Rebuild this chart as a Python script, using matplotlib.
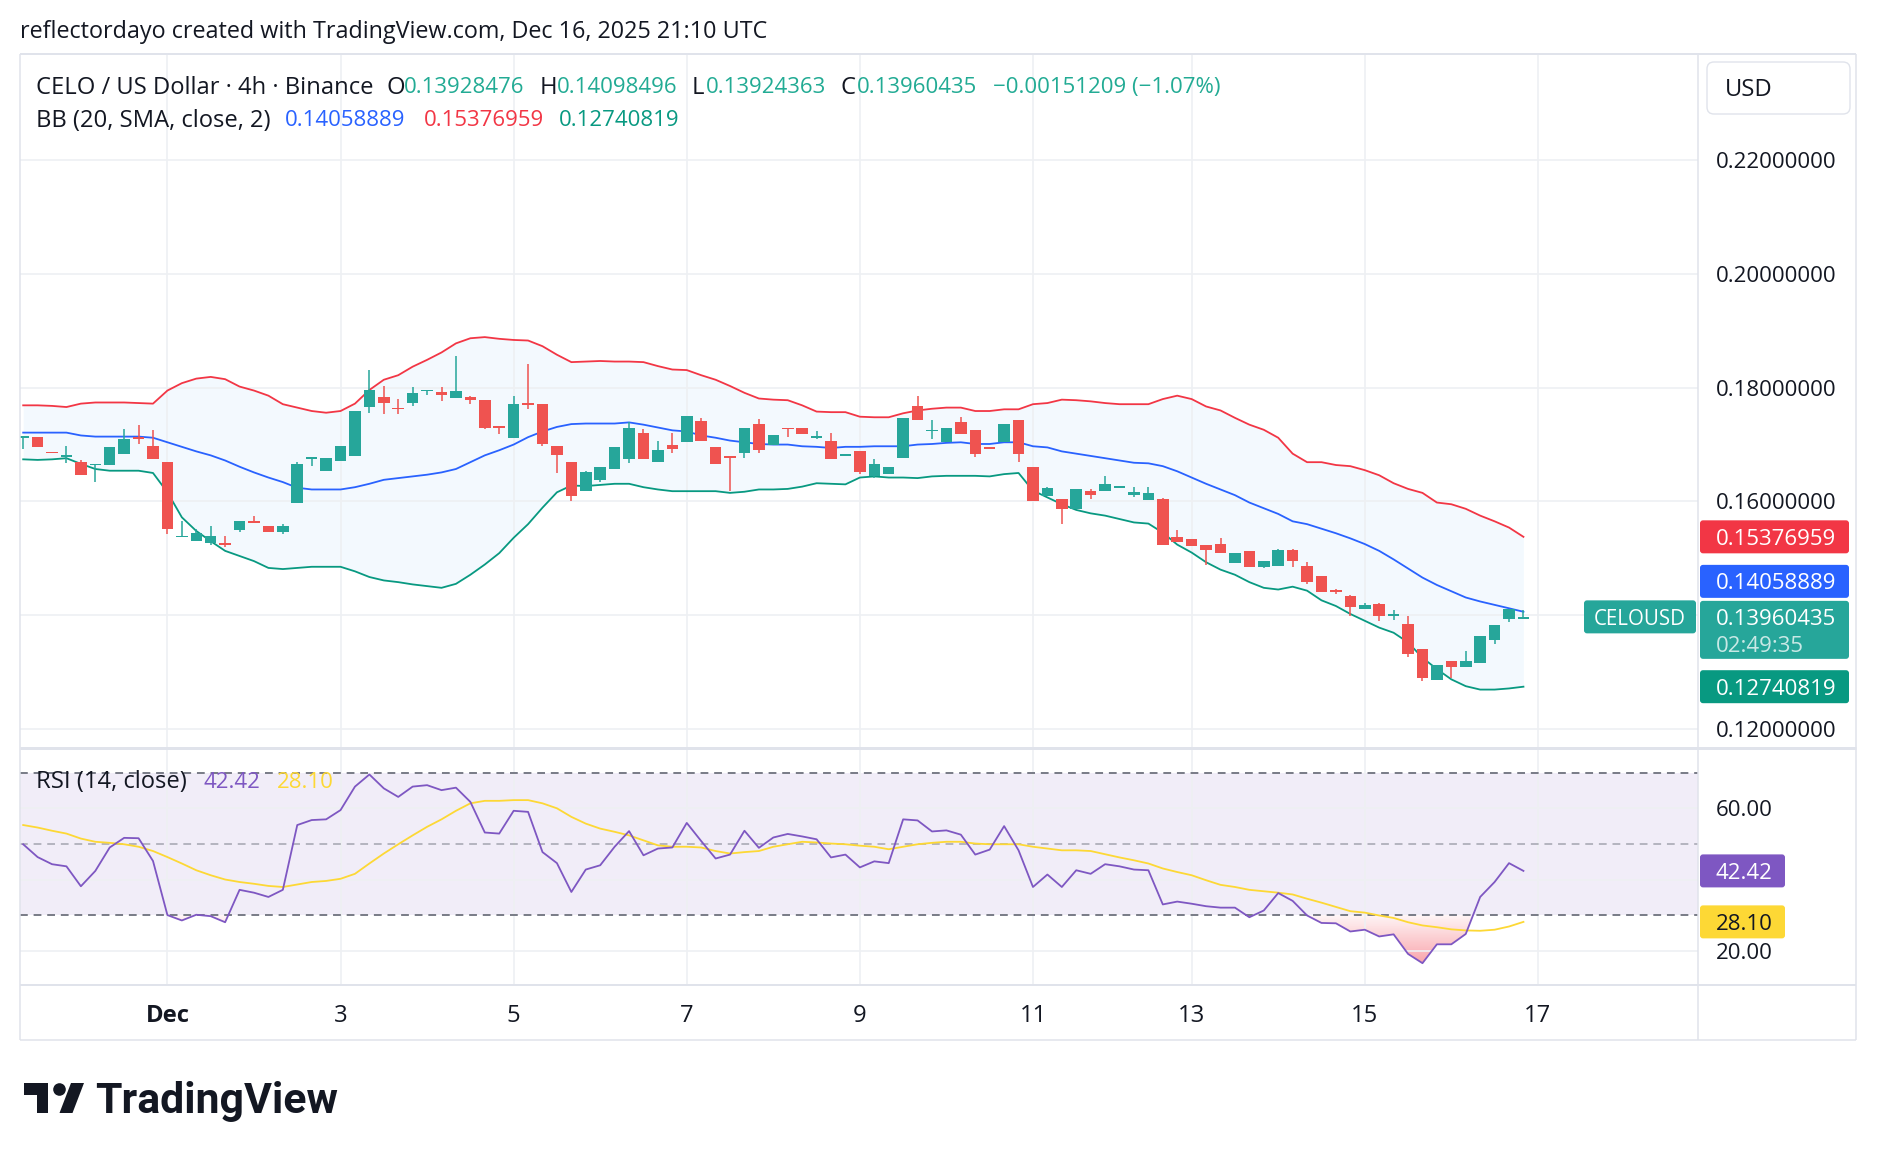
import matplotlib
matplotlib.use('Agg')

import matplotlib.pyplot as plt
import numpy as np
from matplotlib.patches import FancyBboxPatch, Circle, Polygon
from matplotlib.path import Path
from matplotlib.colors import LinearSegmentedColormap

plt.rcParams['font.family'] = ['Open Sans', 'DejaVu Sans']

W, H = 1878, 1160

# ---- CELO/USD 4h candles ----
opens = [0.1712, 0.1714, 0.1687, 0.1678, 0.1670, 0.1664, 0.1664, 0.1683, 0.1714, 0.1697,
         0.1670, 0.1537, 0.1530, 0.1526, 0.1526, 0.1550, 0.1565, 0.1556, 0.1547, 0.1597,
         0.1675, 0.1653, 0.1671, 0.1680, 0.1766, 0.1783, 0.1765, 0.1773, 0.1794, 0.1792,
         0.1782, 0.1783, 0.1778, 0.1732, 0.1712, 0.1773, 0.1771, 0.1698, 0.1670, 0.1618,
         0.1637, 0.1657, 0.1674, 0.1720, 0.1669, 0.1700, 0.1704, 0.1741, 0.1695, 0.1680,
         0.1685, 0.1737, 0.1700, 0.1730, 0.1730, 0.1712, 0.1707, 0.1680, 0.1688, 0.1644,
         0.1648, 0.1676, 0.1768, 0.1723, 0.1704, 0.1739, 0.1725, 0.1695, 0.1704, 0.1743,
         0.1660, 0.1609, 0.1605, 0.1586, 0.1619, 0.1618, 0.1624, 0.1612, 0.1602, 0.1605,
         0.1537, 0.1534, 0.1524, 0.1525, 0.1492, 0.1513, 0.1485, 0.1487, 0.1514, 0.1486,
         0.1469, 0.1445, 0.1434, 0.1410, 0.1419, 0.1398, 0.1384, 0.1341, 0.1285, 0.1320,
         0.1309, 0.1315, 0.1356, 0.1394, 0.13928476]
highs = [0.1714, 0.1714, 0.1687, 0.1697, 0.1672, 0.1666, 0.1695, 0.1727, 0.1734, 0.1725,
         0.1670, 0.1566, 0.1552, 0.1556, 0.1539, 0.1566, 0.1575, 0.1556, 0.1561, 0.1670,
         0.1677, 0.1677, 0.1698, 0.1759, 0.1831, 0.1803, 0.1780, 0.1801, 0.1796, 0.1801,
         0.1856, 0.1786, 0.1778, 0.1732, 0.1786, 0.1842, 0.1771, 0.1698, 0.1670, 0.1653,
         0.1660, 0.1695, 0.1739, 0.1728, 0.1706, 0.1720, 0.1750, 0.1747, 0.1695, 0.1680,
         0.1730, 0.1745, 0.1716, 0.1730, 0.1730, 0.1724, 0.1720, 0.1684, 0.1688, 0.1674,
         0.1660, 0.1746, 0.1785, 0.1743, 0.1729, 0.1748, 0.1725, 0.1695, 0.1737, 0.1743,
         0.1660, 0.1626, 0.1605, 0.1621, 0.1621, 0.1645, 0.1626, 0.1626, 0.1626, 0.1606,
         0.1550, 0.1534, 0.1524, 0.1536, 0.1510, 0.1513, 0.1495, 0.1516, 0.1516, 0.1494,
         0.1469, 0.1446, 0.1436, 0.1422, 0.1421, 0.1409, 0.1398, 0.1341, 0.1312, 0.1320,
         0.1336, 0.1364, 0.1383, 0.1410, 0.14098496]
lows = [0.1693, 0.1696, 0.1685, 0.1667, 0.1647, 0.1634, 0.1664, 0.1683, 0.1701, 0.1674,
        0.1543, 0.1537, 0.1530, 0.1524, 0.1519, 0.1547, 0.1562, 0.1547, 0.1543, 0.1597,
        0.1662, 0.1653, 0.1671, 0.1680, 0.1756, 0.1754, 0.1754, 0.1768, 0.1788, 0.1777,
        0.1782, 0.1772, 0.1727, 0.1718, 0.1712, 0.1763, 0.1697, 0.1650, 0.1600, 0.1618,
        0.1634, 0.1657, 0.1668, 0.1674, 0.1669, 0.1685, 0.1704, 0.1706, 0.1665, 0.1619,
        0.1677, 0.1685, 0.1700, 0.1713, 0.1719, 0.1709, 0.1674, 0.1680, 0.1648, 0.1642,
        0.1648, 0.1676, 0.1743, 0.1709, 0.1704, 0.1719, 0.1678, 0.1693, 0.1704, 0.1669,
        0.1600, 0.1609, 0.1561, 0.1586, 0.1605, 0.1618, 0.1624, 0.1607, 0.1602, 0.1524,
        0.1529, 0.1522, 0.1489, 0.1510, 0.1492, 0.1485, 0.1483, 0.1487, 0.1485, 0.1455,
        0.1440, 0.1437, 0.1398, 0.1410, 0.1389, 0.1392, 0.1327, 0.1284, 0.1285, 0.1289,
        0.1309, 0.1315, 0.1349, 0.1388, 0.13924363]
closes = [0.1714, 0.1696, 0.1685, 0.1681, 0.1647, 0.1666, 0.1695, 0.1709, 0.1709, 0.1674,
          0.1552, 0.1539, 0.1544, 0.1540, 0.1523, 0.1566, 0.1562, 0.1547, 0.1556, 0.1665,
          0.1677, 0.1677, 0.1698, 0.1759, 0.1796, 0.1773, 0.1762, 0.1791, 0.1796, 0.1788,
          0.1795, 0.1778, 0.1729, 0.1729, 0.1772, 0.1769, 0.1701, 0.1682, 0.1609, 0.1651,
          0.1660, 0.1695, 0.1730, 0.1674, 0.1690, 0.1692, 0.1750, 0.1706, 0.1665, 0.1677,
          0.1730, 0.1690, 0.1716, 0.1727, 0.1719, 0.1714, 0.1674, 0.1683, 0.1652, 0.1665,
          0.1660, 0.1746, 0.1743, 0.1724, 0.1729, 0.1719, 0.1683, 0.1693, 0.1737, 0.1683,
          0.1600, 0.1624, 0.1586, 0.1621, 0.1611, 0.1630, 0.1626, 0.1617, 0.1615, 0.1524,
          0.1529, 0.1522, 0.1515, 0.1510, 0.1510, 0.1485, 0.1495, 0.1514, 0.1496, 0.1459,
          0.1440, 0.1441, 0.1415, 0.1418, 0.1398, 0.1402, 0.1331, 0.1289, 0.1312, 0.1309,
          0.1320, 0.1364, 0.1383, 0.1410, 0.13960435]

# Bollinger bands (20, SMA, close, 2)
bb_upper = [0.1769, 0.1769, 0.1768, 0.1766, 0.1772, 0.1774, 0.1774, 0.1774, 0.1773, 0.1772,
            0.1795, 0.1808, 0.1816, 0.1819, 0.1815, 0.1802, 0.1795, 0.1786, 0.1771, 0.1765,
            0.1759, 0.1756, 0.1759, 0.1772, 0.1796, 0.1814, 0.1822, 0.1837, 0.1849, 0.1862,
            0.1878, 0.1887, 0.1889, 0.1886, 0.1884, 0.1883, 0.1873, 0.1858, 0.1845, 0.1846,
            0.1847, 0.1846, 0.1846, 0.1845, 0.1838, 0.1832, 0.1831, 0.1822, 0.1814, 0.1803,
            0.1791, 0.1781, 0.1779, 0.1778, 0.1769, 0.1758, 0.1757, 0.1757, 0.1749, 0.1748,
            0.1748, 0.1755, 0.1760, 0.1763, 0.1765, 0.1765, 0.1759, 0.1759, 0.1762, 0.1762,
            0.1771, 0.1773, 0.1779, 0.1778, 0.1776, 0.1773, 0.1771, 0.1771, 0.1771, 0.1780,
            0.1786, 0.1780, 0.1767, 0.1760, 0.1747, 0.1735, 0.1726, 0.1712, 0.1684, 0.1669,
            0.1669, 0.1664, 0.1662, 0.1655, 0.1646, 0.1632, 0.1622, 0.1615, 0.1598, 0.1595,
            0.1587, 0.1575, 0.1565, 0.1554, 0.15376959]
bb_basis = [0.1721, 0.1721, 0.1721, 0.1721, 0.1716, 0.1714, 0.1714, 0.1714, 0.1714, 0.1712,
            0.1704, 0.1696, 0.1688, 0.1681, 0.1672, 0.1661, 0.1651, 0.1642, 0.1634, 0.1624,
            0.1621, 0.1621, 0.1621, 0.1625, 0.1631, 0.1638, 0.1641, 0.1644, 0.1647, 0.1651,
            0.1657, 0.1669, 0.1681, 0.1690, 0.1700, 0.1713, 0.1723, 0.1731, 0.1736, 0.1737,
            0.1737, 0.1737, 0.1739, 0.1735, 0.1730, 0.1725, 0.1723, 0.1716, 0.1712, 0.1707,
            0.1704, 0.1701, 0.1700, 0.1700, 0.1697, 0.1696, 0.1694, 0.1696, 0.1696, 0.1697,
            0.1697, 0.1697, 0.1700, 0.1701, 0.1703, 0.1704, 0.1701, 0.1701, 0.1704, 0.1704,
            0.1697, 0.1695, 0.1688, 0.1684, 0.1680, 0.1676, 0.1672, 0.1668, 0.1667, 0.1662,
            0.1653, 0.1642, 0.1631, 0.1621, 0.1611, 0.1598, 0.1588, 0.1578, 0.1565, 0.1560,
            0.1552, 0.1544, 0.1535, 0.1525, 0.1513, 0.1498, 0.1482, 0.1466, 0.1453, 0.1442,
            0.1431, 0.1424, 0.1418, 0.1412, 0.14058889]
bb_lower = [0.1674, 0.1673, 0.1674, 0.1676, 0.1666, 0.1657, 0.1654, 0.1654, 0.1654, 0.1650,
            0.1616, 0.1572, 0.1548, 0.1530, 0.1513, 0.1504, 0.1495, 0.1483, 0.1481, 0.1483,
            0.1485, 0.1485, 0.1485, 0.1477, 0.1467, 0.1461, 0.1458, 0.1454, 0.1451, 0.1448,
            0.1455, 0.1471, 0.1489, 0.1509, 0.1536, 0.1560, 0.1589, 0.1616, 0.1628, 0.1627,
            0.1629, 0.1631, 0.1631, 0.1625, 0.1621, 0.1618, 0.1618, 0.1618, 0.1618, 0.1615,
            0.1617, 0.1621, 0.1621, 0.1622, 0.1626, 0.1632, 0.1631, 0.1630, 0.1642, 0.1644,
            0.1642, 0.1642, 0.1641, 0.1644, 0.1645, 0.1645, 0.1645, 0.1644, 0.1648, 0.1650,
            0.1619, 0.1607, 0.1595, 0.1585, 0.1579, 0.1575, 0.1569, 0.1563, 0.1561, 0.1545,
            0.1524, 0.1510, 0.1493, 0.1480, 0.1471, 0.1458, 0.1448, 0.1445, 0.1450, 0.1443,
            0.1426, 0.1416, 0.1402, 0.1390, 0.1378, 0.1369, 0.1352, 0.1325, 0.1305, 0.1287,
            0.1275, 0.1269, 0.1269, 0.1271, 0.12740819]

# RSI (14, close) and its moving average
rsi = [49.9, 46.3, 44.3, 43.7, 38.1, 42.4, 49.0, 51.7, 51.6, 45.2,
       30.0, 28.5, 30.1, 29.7, 28.0, 37.1, 36.3, 35.1, 37.1, 55.3,
       56.7, 56.9, 59.5, 66.1, 69.5, 65.6, 63.2, 66.1, 66.5, 65.1,
       65.8, 61.8, 53.2, 52.9, 59.3, 59.0, 47.7, 44.6, 36.5, 42.8,
       44.0, 49.2, 53.6, 46.8, 48.7, 49.0, 55.9, 50.8, 45.9, 47.0,
       53.7, 48.9, 51.8, 52.8, 52.1, 51.3, 46.2, 47.0, 43.4, 45.1,
       44.6, 56.9, 56.6, 53.5, 53.8, 52.6, 47.0, 48.4, 55.0, 48.2,
       37.9, 41.4, 37.9, 42.6, 41.6, 44.3, 43.7, 42.8, 42.6, 33.0,
       33.8, 33.2, 32.5, 32.1, 32.1, 29.4, 31.3, 36.2, 34.0, 29.9,
       27.8, 27.7, 25.4, 25.9, 24.0, 24.6, 19.1, 16.5, 21.8, 21.8,
       24.7, 35.1, 39.3, 44.6, 42.42]
rsi_ma = [55.3, 54.6, 53.7, 52.9, 51.5, 50.6, 50.3, 49.9, 49.2, 48.0,
          46.3, 44.5, 42.6, 41.2, 40.0, 39.3, 38.8, 38.2, 37.9, 38.6,
          39.3, 39.6, 40.2, 41.6, 44.5, 47.3, 49.9, 52.4, 54.8, 56.9,
          59.3, 61.4, 62.1, 62.1, 62.3, 62.3, 61.4, 60.0, 57.6, 55.7,
          54.3, 53.4, 52.4, 51.0, 49.6, 49.2, 49.2, 49.0, 48.0, 47.3,
          47.7, 48.0, 49.2, 49.9, 50.6, 50.4, 50.1, 49.9, 49.5, 49.2,
          48.5, 49.2, 49.9, 50.3, 50.6, 50.6, 50.1, 49.9, 49.9, 49.9,
          49.2, 48.7, 48.2, 48.2, 48.0, 47.1, 46.2, 45.4, 44.5, 43.1,
          42.1, 41.2, 39.8, 38.5, 37.9, 37.1, 36.7, 36.3, 35.8, 34.6,
          33.5, 32.3, 31.1, 30.7, 29.9, 29.2, 28.0, 27.1, 26.6, 26.0,
          25.7, 25.6, 25.9, 26.8, 28.10]

# time axis labels (candle index where each date starts)
date_idx = [10, 22, 34, 46, 58, 70, 81, 93, 105]
date_lbl = ['Dec', '3', '5', '7', '9', '11', '13', '15', '17']
price_ticks = [0.12, 0.16, 0.18, 0.20, 0.22]
grid_prices = [0.12, 0.14, 0.16, 0.18, 0.20, 0.22]

TXT = '#131722'
UP, DN = '#26A69A', '#EF5350'
GRID = '#EEF0F3'
BORDER = '#E0E3EB'
DY = 2.5  # small baseline nudge for centred text

opens, highs, lows, closes = map(np.array, (opens, highs, lows, closes))
rsi = np.array(rsi)
x = np.arange(len(closes))

fig = plt.figure(figsize=(W / 100, H / 100), dpi=100)
fig.patch.set_facecolor('white')
R = fig.canvas.get_renderer()


def box(x0, y0, x1, y1):
    return [x0 / W, 1 - y1 / H, (x1 - x0) / W, (y1 - y0) / H]


ax = fig.add_axes(box(20, 54, 1698, 747))
ax_rsi = fig.add_axes(box(20, 748, 1698, 985))
xlim = (-0.22, 116.1)

# ---- price pane ----
ax.fill_between(x, bb_lower, bb_upper, color='#2196F3', alpha=0.05, lw=0, zorder=1)
ax.plot(x, bb_upper, color='#F23645', lw=1.3, zorder=2)
ax.plot(x, bb_basis, color='#2962FF', lw=1.3, zorder=2)
ax.plot(x, bb_lower, color='#089981', lw=1.3, zorder=2)

col = np.where(closes >= opens, UP, DN)
ax.vlines(x, lows, highs, colors=col, lw=1.1, zorder=3)
body_lo = np.minimum(opens, closes)
body_h = np.maximum(np.abs(closes - opens), 0.00025)
ax.bar(x, body_h, 0.8, bottom=body_lo, color=col, lw=0, zorder=4)

ax.set_xlim(*xlim)
ax.set_ylim(0.1168, 0.2387)
ax.set_xticks(date_idx)
ax.set_yticks(grid_prices)
ax.grid(color=GRID, lw=1.2, zorder=0)

# ---- RSI pane ----
ax_rsi.axhspan(30, 70, color='#7E57C2', alpha=0.1, lw=0, zorder=0)
for lvl, a in ((70, 1.0), (50, 0.5), (30, 1.0)):
    ax_rsi.axhline(lvl, color='#787B86', alpha=a, lw=1.4, ls=(0, (4, 3)), zorder=2)
ax_rsi.plot(x, rsi_ma, color='#FDD835', lw=1.3, zorder=3)
ax_rsi.plot(x, rsi, color='#7E57C2', lw=1.3, zorder=4)

fb = ax_rsi.fill_between(x, rsi, 30, where=rsi < 30, interpolate=True,
                         color='none', lw=0)
clip = Path.make_compound_path(*fb.get_paths())
cmap = LinearSegmentedColormap.from_list(
    'os', [(0.95, 0.21, 0.27, 0.50), (0.95, 0.21, 0.27, 0.05)])
grad = np.linspace(0, 1, 256).reshape(-1, 1)
im = ax_rsi.imshow(grad, extent=[0, len(x), 15, 30], origin='lower', cmap=cmap,
                   aspect='auto', zorder=1)
im.set_clip_path(clip, transform=ax_rsi.transData)

ax_rsi.set_xlim(*xlim)
ax_rsi.set_ylim(10.37, 76.94)
ax_rsi.set_xticks(date_idx)
ax_rsi.set_yticks([20, 40, 60])
ax_rsi.grid(color=GRID, lw=1.2, zorder=0)

for a in (ax, ax_rsi):
    a.tick_params(length=0, labelleft=False, labelbottom=False)
    for s in a.spines.values():
        s.set_visible(False)
    a.set_facecolor('white')

# ---- overlay in pixel units ----
ov = fig.add_axes([0, 0, 1, 1], zorder=10)
ov.set_xlim(0, W)
ov.set_ylim(H, 0)
ov.axis('off')
ov.patch.set_alpha(0)


def py(a, v):
    return H - a.transData.transform((0, v))[1]


def px(a, i):
    return a.transData.transform((i, 0))[0]


def put(xx, yy, s, **kw):
    kw.setdefault('va', 'center')
    return ov.text(xx, yy + DY, s, **kw)


def fit(s, width, weight='normal', family=None, base=16):
    kw = {'family': family} if family else {}
    t = ov.text(0, 0, s, fontsize=base, fontweight=weight, **kw)
    w = t.get_window_extent(renderer=R).width
    t.remove()
    return base * width / w


title = 'reflectordayo created with TradingView.com, Dec 16, 2025 21:10 UTC'
fs_title = fit(title, 750)
fs_txt = fit('CELO / US Dollar · 4h · Binance', 336)
fs_num = fit('0.22000000', 121)
fs_sym = fit('CELOUSD', 92)

# frame lines
for (x0, y0, x1, y1, lw) in ((20, 54, 1856, 54, 2), (20, 1040, 1856, 1040, 1.5),
                             (20, 54, 20, 1040, 1.5), (1856, 54, 1856, 1040, 1.5),
                             (1698, 54, 1698, 1040, 1.5), (20, 747.5, 1856, 747.5, 3),
                             (20, 985, 1856, 985, 2)):
    ov.plot([x0, x1], [y0, y1], color=BORDER, lw=lw * 0.72, solid_capstyle='butt')

put(20, 30, title, fontsize=fs_title, color=TXT)

# legend lines
TEAL = '#22AB94'
hdr = [(36, 'CELO / US Dollar · 4h · Binance', TXT, fs_txt), (387, 'O', TXT, fs_txt),
       (404, '0.13928476', TEAL, fs_num), (540, 'H', TXT, fs_txt), (557, '0.14098496', TEAL, fs_num),
       (692, 'L', TXT, fs_txt), (706, '0.13924363', TEAL, fs_num), (841, 'C', TXT, fs_txt),
       (857, '0.13960435', TEAL, fs_num), (993, '−0.00151209 (−1.07%)', TEAL, fs_num)]
for xx, s, c, f in hdr:
    put(xx, 85, s, fontsize=f, color=c)
bbl = [(36, 'BB (20, SMA, close, 2)', TXT, fs_txt), (285, '0.14058889', '#2962FF', fs_num),
       (424, '0.15376959', '#F23645', fs_num), (559, '0.12740819', '#089981', fs_num)]
for xx, s, c, f in bbl:
    put(xx, 118.5, s, fontsize=f, color=c)
rsil = [(36, 'RSI (14, close)', TXT, fs_txt), (204, '42.42', '#7E57C2', fs_num),
        (277, '28.10', '#FDD835', fs_num)]
for xx, s, c, f in rsil:
    put(xx, 780, s, fontsize=f, color=c)

# USD button
ov.add_patch(FancyBboxPatch((1707, 62), 143, 52, boxstyle='round,pad=0,rounding_size=7',
                            fc='white', ec=BORDER, lw=1))
put(1725, 88, 'USD', fontsize=fs_txt, color=TXT)

# price scale labels
for p in price_ticks:
    put(1716, py(ax, p), f'{p:.8f}', fontsize=fs_num, color=TXT)
for v in (60, 20):
    put(1716, py(ax_rsi, v), f'{v:.2f}', fontsize=fs_num, color=TXT)


def tag(yc, h, fill, s, tc='white', x0=1700, x1=1849):
    ov.add_patch(FancyBboxPatch((x0, yc - h / 2), x1 - x0, h,
                                boxstyle='round,pad=0,rounding_size=3', fc=fill, ec='none'))
    put(1716, yc, s, fontsize=fs_num, color=tc)


yc_close = py(ax, closes[-1])
tag(py(ax, bb_upper[-1]), 33, '#F23645', f'{bb_upper[-1]:.8f}')
ov.add_patch(FancyBboxPatch((1700, yc_close - 16.5), 149, 58,
                            boxstyle='round,pad=0,rounding_size=3', fc=UP, ec='none'))
put(1716, yc_close, f'{closes[-1]:.8f}', fontsize=fs_num, color='white')
put(1716, yc_close + 27, '02:49:35', fontsize=fs_num, color='white', alpha=0.75)
tag(yc_close - 16.5 - 19.5, 33, '#2962FF', f'{bb_basis[-1]:.8f}')
tag(py(ax, bb_lower[-1]), 33, '#089981', f'{bb_lower[-1]:.8f}')
ov.add_patch(FancyBboxPatch((1584, yc_close - 17), 112, 33,
                            boxstyle='round,pad=0,rounding_size=3', fc=UP, ec='none'))
put(1640, yc_close - 0.5, 'CELOUSD', fontsize=fs_sym, color='white', ha='center')

tag(py(ax_rsi, rsi[-1]), 33, '#7E57C2', f'{rsi[-1]:.2f}', x1=1785)
tag(py(ax_rsi, rsi_ma[-1]), 33, '#FDD835', f'{rsi_ma[-1]:.2f}', tc=TXT, x1=1785)

# time axis
for i, s in zip(date_idx, date_lbl):
    put(px(ax, i), 1013, s, fontsize=fs_txt, color=TXT, ha='center',
        fontweight='bold' if s == 'Dec' else 'normal')

# TradingView logo
ov.add_patch(Polygon([(24, 1083), (48, 1083), (48, 1113), (36.5, 1113), (36.5, 1095), (24, 1095)],
                     closed=True, fc='#131722', ec='none'))
ov.add_patch(Circle((59.5, 1089.5), 6.3, fc='#131722', ec='none'))
ov.add_patch(Polygon([(71, 1083), (84, 1083), (72.5, 1113), (59.5, 1113)],
                     closed=True, fc='#131722', ec='none'))
fs_logo = fit('TradingView', 243, weight='bold', family=['Roboto', 'DejaVu Sans'])
put(95, 1099, 'TradingView', fontsize=fs_logo, fontweight='bold', color='#131722',
    family=['Roboto', 'DejaVu Sans'])

fig.savefig('out.png', dpi=100)
plt.close(fig)
